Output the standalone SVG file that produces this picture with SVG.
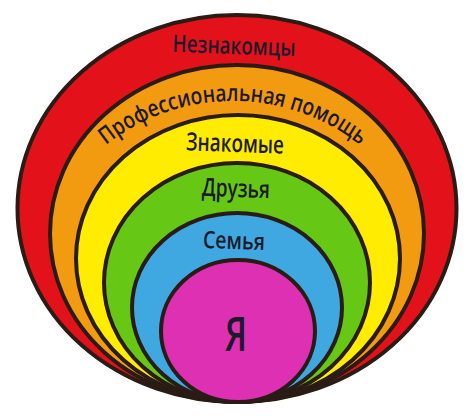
<svg xmlns="http://www.w3.org/2000/svg" width="474" height="419" viewBox="0 0 474 419">
<defs>
<style>
.ring{stroke:#2a1c14;stroke-width:4}
.lbl{font-family:"Open Sans","Noto Sans","DejaVu Sans",sans-serif;font-weight:600;fill:#1c1a2c;text-anchor:middle}
</style>
<path id="arc" d="M 28,306 A 205,205 0 0 1 438,306"/>
</defs>
<rect width="474" height="419" fill="#ffffff"/>
<g id="node-strangers">
<ellipse class="ring" cx="237" cy="208.5" rx="219.5" ry="193.5" fill="#e3121a"/>
<text class="lbl" x="234" y="54" font-size="24" textLength="123" lengthAdjust="spacingAndGlyphs" transform="rotate(2 234 46)">Незнакомцы</text>
</g>
<g id="node-professional">
<ellipse class="ring" cx="237" cy="233.5" rx="187" ry="168.5" fill="#f39b10"/>
<text class="lbl" font-size="23.5"><textPath href="#arc" startOffset="50%" textLength="274" lengthAdjust="spacingAndGlyphs">Профессиональная помощь</textPath></text>
</g>
<g id="node-acquaintances">
<ellipse class="ring" cx="238" cy="258.5" rx="162" ry="143.5" fill="#ffec00"/>
<text class="lbl" x="235" y="152" font-size="25" textLength="98" lengthAdjust="spacingAndGlyphs" transform="rotate(2 235 143)">Знакомые</text>
</g>
<g id="node-friends">
<ellipse class="ring" cx="237" cy="282.5" rx="133" ry="119.5" fill="#66c814"/>
<text class="lbl" x="236" y="197" font-size="25" textLength="68" lengthAdjust="spacingAndGlyphs" transform="rotate(2 236 189)">Друзья</text>
</g>
<g id="node-family">
<ellipse class="ring" cx="237" cy="307.5" rx="105" ry="94.5" fill="#3fa8e0"/>
<text class="lbl" x="234" y="249" font-size="24" textLength="62" lengthAdjust="spacingAndGlyphs" transform="rotate(2 234 241)">Семья</text>
</g>
<g id="node-me">
<ellipse class="ring" cx="238" cy="331" rx="77" ry="71" fill="#dd30b3"/>
<text class="lbl" x="236" y="351" font-size="47" textLength="22" lengthAdjust="spacingAndGlyphs">Я</text>
</g>
<g id="connectors"/>
</svg>
